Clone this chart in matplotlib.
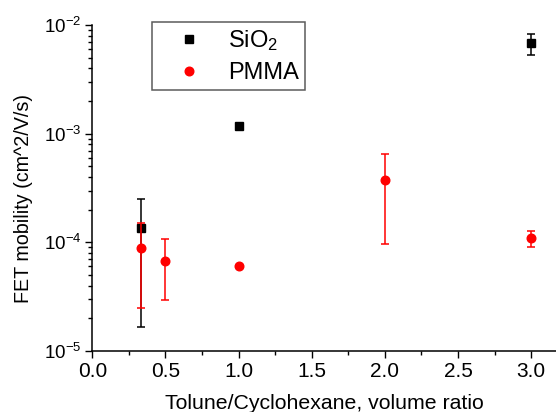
import numpy as np
import matplotlib
matplotlib.use("Agg")
import matplotlib.pyplot as plt
from matplotlib.ticker import LogLocator, MultipleLocator, FuncFormatter

plt.rcParams['font.family'] = ['Liberation Sans', 'DejaVu Sans']
plt.rcParams['mathtext.fontset'] = 'custom'
plt.rcParams['mathtext.rm'] = 'Liberation Sans'
plt.rcParams['mathtext.it'] = 'Liberation Sans'

# --- data ---
sio2_x = [0.333, 1.0, 3.0]
sio2_y = [1.35e-4, 1.18e-3, 6.9e-3]
sio2_lo = [1.68e-5, 1.18e-3, 5.3e-3]
sio2_hi = [2.5e-4, 1.18e-3, 8.3e-3]

pmma_x = [0.333, 0.5, 1.0, 2.0, 3.0]
pmma_y = [8.8e-5, 6.8e-5, 6.0e-5, 3.78e-4, 1.09e-4]
pmma_lo = [2.48e-5, 2.95e-5, 6.0e-5, 9.6e-5, 9.1e-5]
pmma_hi = [1.5e-4, 1.07e-4, 6.0e-5, 6.55e-4, 1.27e-4]

fig = plt.figure(figsize=(5.56, 4.12), dpi=100)
ax = fig.add_axes([0.166, 0.148, 0.834, 0.791])

pm_err = [np.array(pmma_y) - np.array(pmma_lo), np.array(pmma_hi) - np.array(pmma_y)]
si_err = [np.array(sio2_y) - np.array(sio2_lo), np.array(sio2_hi) - np.array(sio2_y)]

ax.errorbar(pmma_x, pmma_y, yerr=pm_err, fmt='o', color='red', ms=6.2,
            elinewidth=1.1, capsize=3, capthick=1.1, label='PMMA', zorder=3)
ax.errorbar(sio2_x, sio2_y, yerr=si_err, fmt='s', color='black', ms=5.2,
            elinewidth=1.1, capsize=3, capthick=1.1, label='SiO$_2$', zorder=2)

ax.set_yscale('log')
ax.set_ylim(1e-5, 1e-2)
ax.set_xlim(0, 3.17)

ax.xaxis.set_major_locator(MultipleLocator(0.5))
ax.xaxis.set_minor_locator(MultipleLocator(0.25))
ax.xaxis.set_major_formatter(FuncFormatter(lambda v, p: f"{v:.1f}"))
ax.yaxis.set_major_locator(LogLocator(base=10, numticks=10))
ax.yaxis.set_minor_locator(LogLocator(base=10, subs=np.arange(2, 10), numticks=10))
ax.yaxis.set_major_formatter(FuncFormatter(lambda v, p: r"$10^{%d}$" % round(np.log10(v))))

ax.tick_params(which='major', direction='out', length=5, width=1, pad=3)
ax.tick_params(which='minor', direction='out', length=3, width=1)
ax.tick_params(axis='x', labelsize=15, pad=3)
ax.tick_params(axis='y', labelsize=13.5)

for s in ['top', 'right']:
    ax.spines[s].set_visible(False)
for s in ['left', 'bottom']:
    ax.spines[s].set_linewidth(1.1)

ax.set_xlabel('Tolune/Cyclohexane, volume ratio', fontsize=15.3, labelpad=9)
ax.set_ylabel('FET mobility (cm^2/V/s)', fontsize=14.2)
ax.yaxis.set_label_coords(-0.127, 0.468)

handles, labels = ax.get_legend_handles_labels()
handles = [h[0] for h in handles[::-1]]
leg = ax.legend(handles, labels[::-1], loc='upper left', bbox_to_anchor=(0.128, 1.01),
                fontsize=17, frameon=True, fancybox=False, handlelength=2.65,
                handletextpad=0.35, borderpad=0.25, labelspacing=0.4,
                borderaxespad=0, markerscale=1.0)
leg.get_frame().set_edgecolor('#333333')
leg.get_frame().set_linewidth(1.1)

fig.savefig('out.png', dpi=100)
